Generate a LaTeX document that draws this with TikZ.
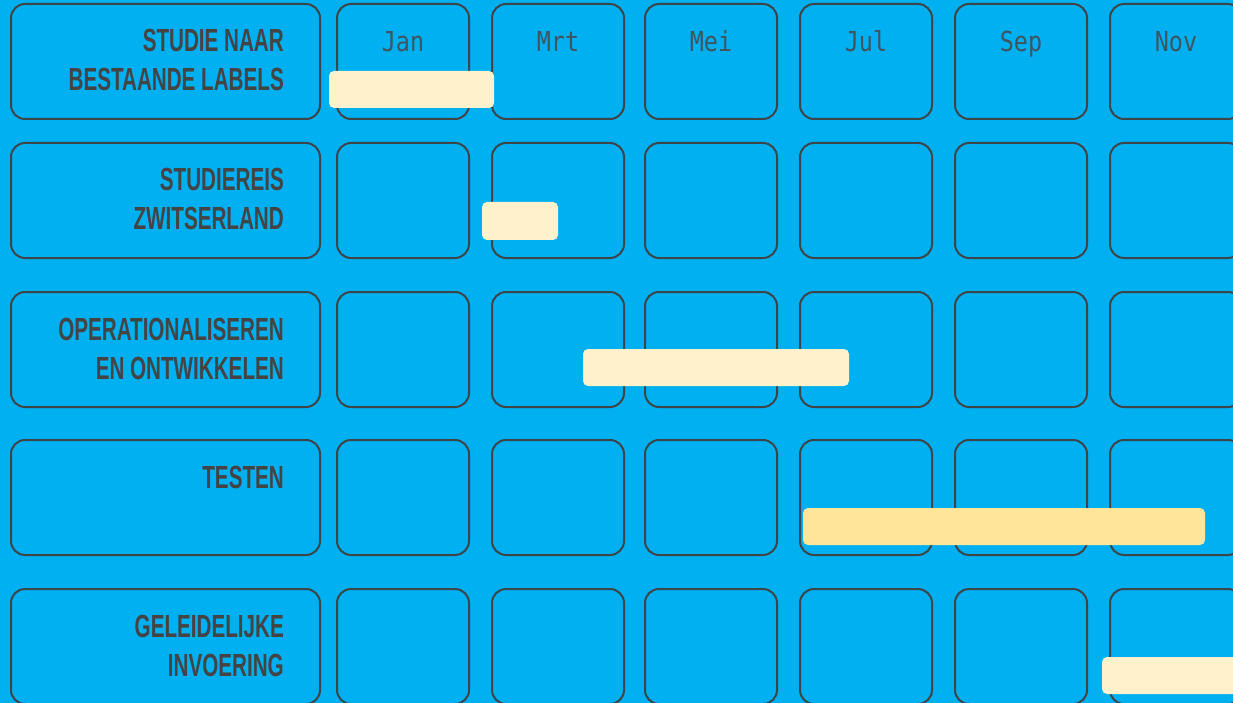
\documentclass[tikz,border=0pt]{standalone}
\usepackage{fontspec}
\setmainfont{Liberation Sans}
\newfontfamily\monthfont{DejaVu Sans Mono}
\definecolor{bg}{HTML}{00B0F0}
\definecolor{boxgray}{HTML}{3E4549}
\definecolor{txtgray}{HTML}{444444}
\definecolor{mgray}{HTML}{3F5560}
\definecolor{cream}{HTML}{FFF1CC}
\definecolor{gold}{HTML}{FFE599}
\newcommand{\labtxt}[1]{\scalebox{0.645}[1]{\fontsize{32}{32}\selectfont\bfseries #1}}
\newcommand{\montxt}[1]{\scalebox{0.85}[1]{\fontsize{27.5}{27.5}\monthfont #1}}
\begin{document}
\begin{tikzpicture}[x=1pt,y=-1pt,
  lbox/.style={draw=boxgray, line width=2pt, rounded corners=14pt, minimum width=309pt, minimum height=115pt, inner sep=0pt},
  mbox/.style={draw=boxgray, line width=2pt, rounded corners=14pt, minimum width=132pt, minimum height=115pt, inner sep=0pt},
  labt/.style={anchor=base east, inner sep=0pt, text=txtgray},
  mont/.style={anchor=base, inner sep=0pt, text=mgray},
  bar/.style={fill=cream, rounded corners=5pt},
  goldbar/.style={fill=gold, rounded corners=5pt}]
\clip (0,0) rectangle (1233,703);
\fill[bg] (0,0) rectangle (1233,703);
% row tops
\foreach \r/\t in {1/3, 2/142, 3/291, 4/439, 5/588} {
  \node[lbox] (L\r) at (165.5,\t+58.5) {};
  \foreach \c/\x in {1/403, 2/558, 3/711, 4/866, 5/1021, 6/1176} {
    \node[mbox] (M\r\c) at (\x,\t+58.5) {};
  }
}
% month names
\node[mont] (m1) at (403,52) {\montxt{Jan}};
\node[mont] (m2) at (558,52) {\montxt{Mrt}};
\node[mont] (m3) at (711,52) {\montxt{Mei}};
\node[mont] (m4) at (866,52) {\montxt{Jul}};
\node[mont] (m5) at (1021,52) {\montxt{Sep}};
\node[mont] (m6) at (1176,52) {\montxt{Nov}};
% labels
\node[labt] (t1a) at (284,52) {\labtxt{STUDIE NAAR}};
\node[labt] (t1b) at (284,91) {\labtxt{BESTAANDE LABELS}};
\node[labt] (t2a) at (284,191) {\labtxt{STUDIEREIS}};
\node[labt] (t2b) at (284,230) {\labtxt{ZWITSERLAND}};
\node[labt] (t3a) at (284,340) {\labtxt{OPERATIONALISEREN}};
\node[labt] (t3b) at (284,379) {\labtxt{EN ONTWIKKELEN}};
\node[labt] (t4a) at (284,488) {\labtxt{TESTEN}};
\node[labt] (t5a) at (284,637) {\labtxt{GELEIDELIJKE}};
\node[labt] (t5b) at (284,676) {\labtxt{INVOERING}};
% bars
\fill[bar] (329,71) rectangle (494,108);
\fill[bar] (482,202) rectangle (558,240);
\fill[bar] (583,349) rectangle (849,386);
\fill[goldbar] (803,508) rectangle (1205,545);
\fill[bar] (1102,657) rectangle (1250,694);
\end{tikzpicture}
\end{document}
